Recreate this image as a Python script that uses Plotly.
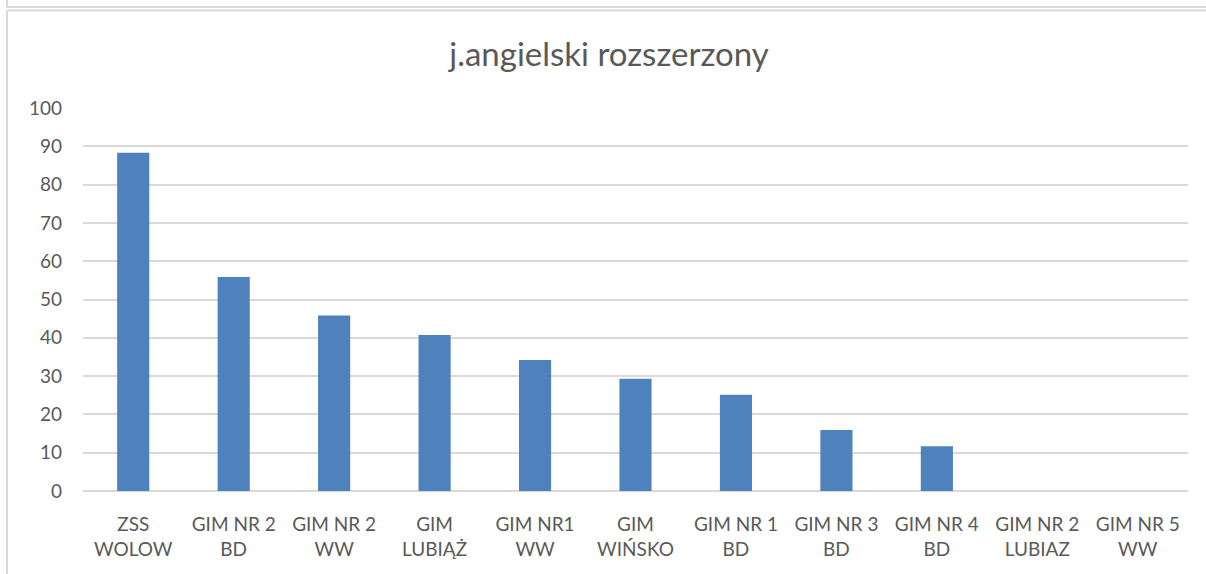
import plotly.graph_objects as go

# data
schools = ["ZSS<br>WOLOW", "GIM NR 2<br>BD", "GIM NR 2<br>WW", "GIM<br>LUBIĄŻ",
           "GIM NR1<br>WW", "GIM<br>WIŃSKO", "GIM NR 1<br>BD", "GIM NR 3<br>BD",
           "GIM NR 4<br>BD", "GIM NR 2<br>LUBIAZ", "GIM NR 5<br>WW"]
scores = [88.3, 55.9, 45.8, 40.7, 34.2, 29.3, 25.1, 15.9, 11.7, 0, 0]
y_ticks = list(range(0, 101, 10))

W, H = 1206, 574
L, R, T, B = 83, 18, 108, 83
GREY_TXT = "#595959"
GREY_LINE = "#d9d9d9"
FONT = "Lato"

fig = go.Figure(go.Bar(x=schools, y=scores, marker_color="#4f81bd",
                       marker_line_width=0))

# helpers: window pixels -> paper coords (paper is the plot area)
def px(x):
    return (x - L) / (W - L - R)

def py(y):
    return (H - B - y) / (H - T - B)

frame = dict(color=GREY_LINE, width=2)
shapes = [
    dict(type="line", xref="paper", yref="paper", x0=px(7), x1=px(1220), y0=py(7), y1=py(7), line=frame),
    dict(type="line", xref="paper", yref="paper", x0=px(7), x1=px(7), y0=py(-5), y1=py(7), line=frame),
    dict(type="line", xref="paper", yref="paper", x0=px(7), x1=px(1220), y0=py(10.5), y1=py(10.5), line=frame),
    dict(type="line", xref="paper", yref="paper", x0=px(7), x1=px(7), y0=py(10.5), y1=py(590), line=frame),
]

fig.update_layout(
    width=W, height=H,
    margin=dict(l=L, r=R, t=T, b=B),
    paper_bgcolor="white", plot_bgcolor="white",
    bargap=0.68,
    showlegend=False,
    font=dict(family=FONT, color=GREY_TXT, size=19),
    title=dict(text="j.angielski rozszerzony", x=609 / W, xanchor="center",
               y=1 - 54 / H, yanchor="middle",
               font=dict(size=33, color=GREY_TXT, family=FONT)),
    shapes=shapes,
)
fig.update_xaxes(showgrid=False, showline=False, zeroline=False, ticks="",
                 ticklabelstandoff=20, tickfont=dict(size=19, color=GREY_TXT))
fig.update_yaxes(range=[0, 100], tickvals=y_ticks, showgrid=True, gridcolor=GREY_LINE,
                 gridwidth=1.5, zeroline=True, zerolinecolor=GREY_LINE, zerolinewidth=1.5,
                 showline=False, ticks="", ticklabelstandoff=20,
                 tickfont=dict(size=19, color=GREY_TXT))

# drop the default page margin so the figure sits at the window corner
fig.write_html("out.html", config={"displayModeBar": False},
               post_script="document.body.style.margin='0';")
